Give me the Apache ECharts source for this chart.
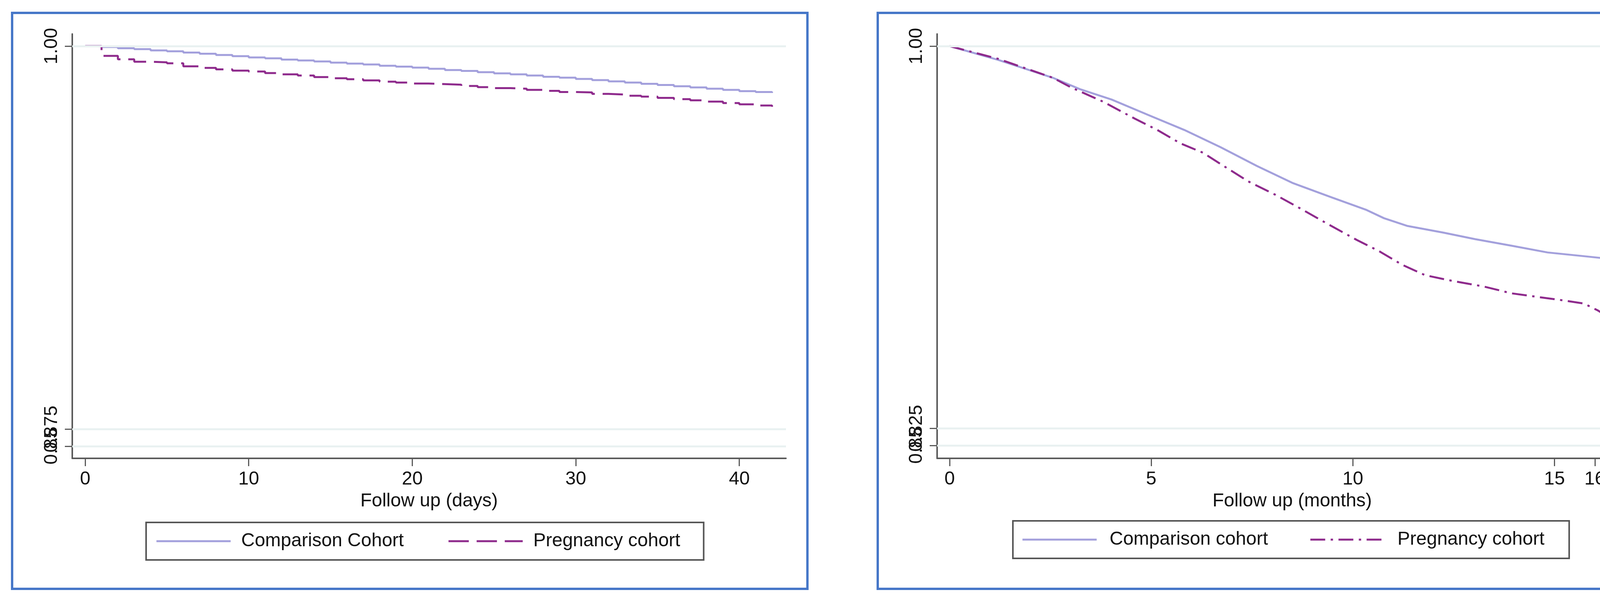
<!DOCTYPE html>
<html>
<head>
<meta charset="utf-8">
<script src="https://cdn.jsdelivr.net/npm/echarts@6/dist/echarts.min.js"></script>
<style>
html,body{margin:0;padding:0;background:#fff;}
#c{width:4301px;height:1556px;}
</style>
</head>
<body>
<div id="c"></div>
<script>
// ---------- Left panel (days) ----------
const leftDays = [0,1,2,3,4,5,6,7,8,9,10,11,12,13,14,15,16,17,18,19,20,21,22,23,24,25,26,27,28,29,30,31,32,33,34,35,36,37,38,39,40,41,42];
const leftComparison = [1.0000,0.9997,0.9993,0.9990,0.9986,0.9983,0.9979,0.9975,0.9971,0.9967,0.9963,0.9960,0.9956,0.9953,0.9950,0.9946,0.9943,0.9940,0.9936,0.9933,0.9930,0.9926,0.9922,0.9919,0.9915,0.9911,0.9908,0.9904,0.9900,0.9897,0.9893,0.9889,0.9885,0.9881,0.9877,0.9873,0.9869,0.9865,0.9861,0.9857,0.9853,0.9850,0.9847];
const leftPregnancy = [1.0000,0.9968,0.9957,0.9949,0.9947,0.9944,0.9934,0.9929,0.9924,0.9920,0.9917,0.9912,0.9908,0.9904,0.9899,0.9895,0.9892,0.9888,0.9884,0.9881,0.9878,0.9876,0.9874,0.9870,0.9866,0.9863,0.9861,0.9857,0.9854,0.9850,0.9849,0.9844,0.9842,0.9838,0.9835,0.9831,0.9827,0.9823,0.9819,0.9814,0.9810,0.9806,0.9802];
const leftXTicks = [0,10,20,30,40];
const leftYTickValues = [0.869388,0.875,1.0];
const leftYTickLabels = ['0.85','0.875','1.00'];
const leftSeriesNames = ['Comparison Cohort','Pregnancy cohort'];
const leftXName = 'Follow up (days)';

// ---------- Right panel (months) ----------
const rightCompMonths = [0,1.2,2.56,3.23,4.02,4.92,5.82,6.72,7.62,8.52,9.42,10.32,10.77,11.34,12.24,13.03,13.93,14.83,15.73,16.40,16.74,16.76];
const rightComparison = [1.0,0.9937,0.9855,0.9803,0.9755,0.9685,0.9616,0.9537,0.9451,0.9372,0.9311,0.9251,0.9212,0.9177,0.9146,0.9116,0.9086,0.9055,0.9038,0.9025,0.9012,0.8977];
const rightPregMonths = [0,1.2,2.56,3.01,3.80,4.59,5.15,5.72,6.28,6.72,7.40,8.07,8.75,9.42,10.10,10.66,11.22,11.79,12.46,13.25,13.93,14.60,15.28,15.73,16.07,16.18,16.63];
const rightPregnancy = [1.0,0.9942,0.9855,0.9811,0.9746,0.9668,0.9616,0.9555,0.9512,0.9460,0.9381,0.9320,0.9251,0.9181,0.9112,0.9060,0.8999,0.8951,0.8925,0.8899,0.8868,0.8851,0.8834,0.8821,0.8790,0.8777,0.8777];
const rightXTicks = [0,5,10,15,16];
const rightYTickValues = [0.817125,0.825,1.0];
const rightYTickLabels = ['0.85','0.825','1.00'];
const rightSeriesNames = ['Comparison cohort','Pregnancy cohort '];
const rightXName = 'Follow up (months)';

const FONT = 'Liberation Sans, Arial, Helvetica, sans-serif';
const COMP_COLOR = '#a3a0dc';
const PREG_COLOR = '#8e2a8c';
const AXIS_COLOR = '#5a5a5a';
const GRID_COLOR = '#e9f1f1';
const FRAME_COLOR = '#4677c8';

function zip(xs, ys){ return xs.map((x,i)=>[x, ys[i]]); }
function labelFor(values, labels){
  return function(v){
    let best = 0, bd = Infinity;
    for (let i=0;i<values.length;i++){ const d = Math.abs(values[i]-v); if (d < bd){ bd = d; best = i; } }
    return bd < 1e-4 ? labels[best] : '';
  };
}
function xAxisCfg(idx, min, max, ticks, name){
  return {
    type:'value', gridIndex: idx, min: min, max: max,
    name: name, nameLocation:'middle', nameGap: 86,
    nameTextStyle:{fontFamily:FONT, fontSize:48, color:'#111'},
    axisLine:{show:true, onZero:false, lineStyle:{color:AXIS_COLOR, width:4}},
    axisTick:{show:true, length:20, customValues: ticks, lineStyle:{color:AXIS_COLOR, width:3}},
    axisLabel:{show:true, margin:30, hideOverlap:false, showMinLabel:true, showMaxLabel:true,
      customValues: ticks, fontFamily:FONT, fontSize:48, color:'#111'},
    splitLine:{show:false}
  };
}
// one y axis per subset of ticks, so that overlapping labels are all kept (as in the reference)
function yAxisCfg(idx, min, max, subsetVals, allVals, allLabels, showLine){
  return {
    type:'value', gridIndex: idx, min: min, max: max, position:'left', offset:0,
    axisLine:{show:showLine, onZero:false, lineStyle:{color:AXIS_COLOR, width:4}},
    axisTick:{show:true, length:19, customValues: subsetVals, lineStyle:{color:AXIS_COLOR, width:3}},
    axisLabel:{show:true, rotate:90, margin:28, hideOverlap:false, showMinLabel:true, showMaxLabel:true,
      customValues: subsetVals, formatter: labelFor(allVals, allLabels),
      fontFamily:FONT, fontSize:48, color:'#111'},
    splitLine:{show:false}
  };
}
function gridLines(vals){
  return {
    silent:true, symbol:['none','none'], label:{show:false}, precision:6,
    lineStyle:{color:GRID_COLOR, width:5, type:'solid'},
    emphasis:{disabled:true},
    data: vals.map(v=>({yAxis:v}))
  };
}
function legendCfg(names, left, top, gap, pad, textPad){
  return {
    data: names, left:left, top:top, orient:'horizontal',
    itemWidth:190, itemHeight:14, itemGap:gap,
    padding:pad, borderColor:'#555', borderWidth:4, backgroundColor:'#fff',
    itemStyle:{opacity:0, borderWidth:0},
    lineStyle:{width:5},
    textStyle:{fontFamily:FONT, fontSize:48, color:'#111', padding:[0,0,0,textPad]},
    selectedMode:false
  };
}

const L_MIN = 0.865434, L_MAX = 1.003954;
const R_MIN = 0.811222, R_MAX = 1.005547;

const chart = echarts.init(document.getElementById('c'), null, {renderer:'canvas'});
chart.setOption({
  backgroundColor:'#ffffff',
  animation:false,
  graphic:[
    {type:'rect', shape:{x:31, y:33, width:2036, height:1474}, style:{fill:'none', stroke:FRAME_COLOR, lineWidth:6}, z:-1},
    {type:'rect', shape:{x:2247, y:33, width:2038, height:1474}, style:{fill:'none', stroke:FRAME_COLOR, lineWidth:6}, z:-1}
  ],
  grid:[
    {left:185, top:87, width:1827, height:1086},
    {left:2399, top:87, width:1818, height:1086}
  ],
  xAxis:[
    xAxisCfg(0, -0.79, 42.85, leftXTicks, leftXName),
    xAxisCfg(1, -0.31, 17.3, rightXTicks, rightXName)
  ],
  yAxis:[
    yAxisCfg(0, L_MIN, L_MAX, leftYTickValues.slice(1), leftYTickValues, leftYTickLabels, true),
    yAxisCfg(1, R_MIN, R_MAX, rightYTickValues.slice(1), rightYTickValues, rightYTickLabels, true),
    yAxisCfg(0, L_MIN, L_MAX, leftYTickValues.slice(0,1), leftYTickValues, leftYTickLabels, false),
    yAxisCfg(1, R_MIN, R_MAX, rightYTickValues.slice(0,1), rightYTickValues, rightYTickLabels, false)
  ],
  legend:[
    legendCfg(leftSeriesNames, 374, 1337, 112, [24,60,24,24], 22),
    legendCfg(rightSeriesNames, 2593, 1333, 106, [24,50,24,22], 28)
  ],
  series:[
    {
      name:leftSeriesNames[0], type:'line', xAxisIndex:0, yAxisIndex:0, step:'end',
      data: zip(leftDays, leftComparison), showSymbol:false, symbol:'none',
      lineStyle:{color:COMP_COLOR, width:5}, itemStyle:{color:COMP_COLOR}, z:3,
      markLine: gridLines(leftYTickValues)
    },
    {
      name:leftSeriesNames[1], type:'line', xAxisIndex:0, yAxisIndex:0, step:'end',
      data: zip(leftDays, leftPregnancy), showSymbol:false, symbol:'none',
      lineStyle:{color:PREG_COLOR, width:5, type:[52,20]}, itemStyle:{color:PREG_COLOR}, z:4
    },
    {
      name:rightSeriesNames[0], type:'line', xAxisIndex:1, yAxisIndex:1,
      data: zip(rightCompMonths, rightComparison), showSymbol:false, symbol:'none',
      lineStyle:{color:COMP_COLOR, width:5}, itemStyle:{color:COMP_COLOR}, z:3,
      markLine: gridLines(rightYTickValues)
    },
    {
      name:rightSeriesNames[1], type:'line', xAxisIndex:1, yAxisIndex:1,
      data: zip(rightPregMonths, rightPregnancy), showSymbol:false, symbol:'none',
      lineStyle:{color:PREG_COLOR, width:5, type:[38,14,6,14]}, itemStyle:{color:PREG_COLOR}, z:4
    }
  ]
});
</script>
</body>
</html>
